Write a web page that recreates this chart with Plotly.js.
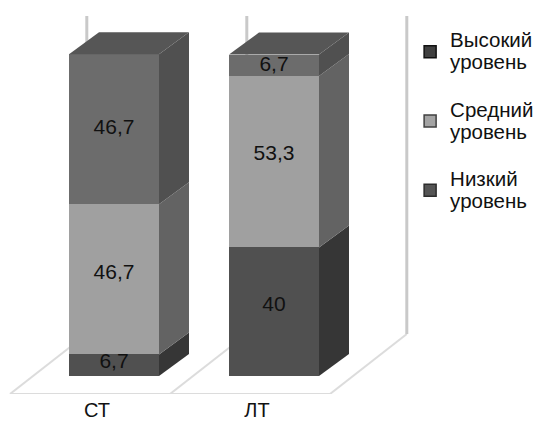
<!DOCTYPE html>
<html>
<head>
<meta charset="utf-8">
<script src="https://cdn.plot.ly/plotly-3.0.1.min.js"></script>
<style>html,body{margin:0;padding:0;background:#fff}</style>
</head>
<body>
<div id="chart" style="width:534px;height:422px"></div>
<script>
// Stacked percentages per group, bottom to top
const groups = ['СТ', 'ЛТ'];
const lowLevel = [6.7, 40];
const midLevel = [46.7, 53.3];
const highLevel = [46.7, 6.7];

const seriesNames = ['Низкий<br>уровень', 'Средний<br>уровень', 'Высокий<br>уровень'];
const seriesValues = [lowLevel, midLevel, highLevel];
const frontColors = ['#505050', '#a0a0a0', '#6c6c6c'];
const sideColors = ['#363636', '#636363', '#505050'];
const keyColors = ['#555555', '#a4a4a4', '#404040'];
const keyEdges = ['#2c2c2c', '#404040', '#111111'];
const topColor = '#565656';

// Pseudo-3D box geometry in axis units
const barWidth = 0.5625;
const depthX = 0.1875;
const depthY = 6.84;
const floorFrontY = -5.6;
const floorBackY = 13.06;
const floorBackShift = 0.48;
const wallTop = 112;
const xPositions = groups.map((_, i) => i);

// Upward label nudges in axis units, per group and series
const labelNudge = [[0.9, 1.9, 0.3], [1.9, 2.2, 0]];

const traces = [];

// Front faces of the boxes
seriesValues.forEach((vals, s) => {
  traces.push({
    type: 'bar', x: xPositions, y: vals, showlegend: false, hoverinfo: 'skip',
    marker: {color: frontColors[s], line: {width: 0}}
  });
});

// Right side faces and the top lid, derived from the cumulative values
const labelX = [], labelY = [], labelText = [];
xPositions.forEach((x, i) => {
  const right = x + barWidth / 2, left = x - barWidth / 2;
  let base = 0;
  seriesValues.forEach((vals, s) => {
    const top = base + vals[i];
    traces.push({
      type: 'scatter', mode: 'lines', fill: 'toself', fillcolor: sideColors[s],
      line: {width: 0}, showlegend: false, hoverinfo: 'skip',
      x: [right, right + depthX, right + depthX, right, right],
      y: [base, base + depthY, top + depthY, top, base]
    });
    labelX.push(x);
    labelY.push((base + top) / 2 + labelNudge[i][s]);
    labelText.push(String(vals[i]).replace('.', ','));
    base = top;
  });
  traces.push({
    type: 'scatter', mode: 'lines', fill: 'toself', fillcolor: topColor,
    line: {width: 0}, showlegend: false, hoverinfo: 'skip',
    x: [left, right, right + depthX, left + depthX, left],
    y: [base, base, base + depthY, base + depthY, base]
  });
});

// Value labels on the front faces
traces.push({
  type: 'scatter', mode: 'text', x: labelX, y: labelY, text: labelText,
  textposition: 'middle center', showlegend: false, hoverinfo: 'skip',
  textfont: {family: 'Liberation Sans, Arial, sans-serif', size: 21, color: '#111111'}
});

// Key entries, highest level first; the font-size span keeps the two lines tightly spaced
[2, 1, 0].forEach(s => {
  traces.push({
    type: 'bar', x: [null], y: [null], hoverinfo: 'skip',
    name: '<span style="font-size:20.5px">' + seriesNames[s] + '</span>',
    legendgroup: 'g' + s,
    marker: {color: keyColors[s], line: {color: keyEdges[s], width: 1.5}}
  });
});

// Floor outline and back-wall lines, one cell per category boundary
const shapes = [];
const gridColor = '#c9c9c9', floorColor = '#dcdcdc';
const cellEdges = [-0.65, 0.35, 1.35];
cellEdges.forEach(e => {
  shapes.push({type: 'line', layer: 'below', xref: 'x', yref: 'y',
    x0: e, x1: e + floorBackShift, y0: floorFrontY, y1: floorBackY,
    line: {color: floorColor, width: 2}});
  shapes.push({type: 'line', layer: 'below', xref: 'x', yref: 'y',
    x0: e + floorBackShift, x1: e + floorBackShift, y0: floorBackY, y1: wallTop,
    line: {color: gridColor, width: 3}});
});
shapes.push({type: 'line', layer: 'below', xref: 'x', yref: 'y',
  x0: cellEdges[0], x1: cellEdges[2], y0: floorFrontY, y1: floorFrontY,
  line: {color: floorColor, width: 2}});

const layout = {
  width: 534, height: 422, autosize: false,
  paper_bgcolor: '#ffffff', plot_bgcolor: 'rgba(0,0,0,0)',
  margin: {l: 0, r: 122, t: 16, b: 28, pad: 0, autoexpand: false},
  barmode: 'stack', bargap: 1 - barWidth,
  font: {family: 'Liberation Sans, Arial, sans-serif', color: '#111111'},
  xaxis: {
    range: [-0.7125, 1.8625], fixedrange: true, showgrid: false, zeroline: false,
    showline: false, ticks: '', tickmode: 'array', tickvals: xPositions, ticktext: groups,
    tickfont: {size: 20}, ticklabelshift: -17, ticklabelstandoff: 2
  },
  yaxis: {range: [floorFrontY, wallTop], fixedrange: true, visible: false},
  legend: {
    xref: 'container', yref: 'container', x: 0.768, y: 0.945,
    xanchor: 'left', yanchor: 'top', traceorder: 'grouped',
    tracegroupgap: 22, itemwidth: 30, bgcolor: 'rgba(0,0,0,0)',
    font: {size: 17, color: '#111111'}
  },
  shapes: shapes
};

Plotly.newPlot('chart', traces, layout, {displayModeBar: false, staticPlot: true});
</script>
</body>
</html>
